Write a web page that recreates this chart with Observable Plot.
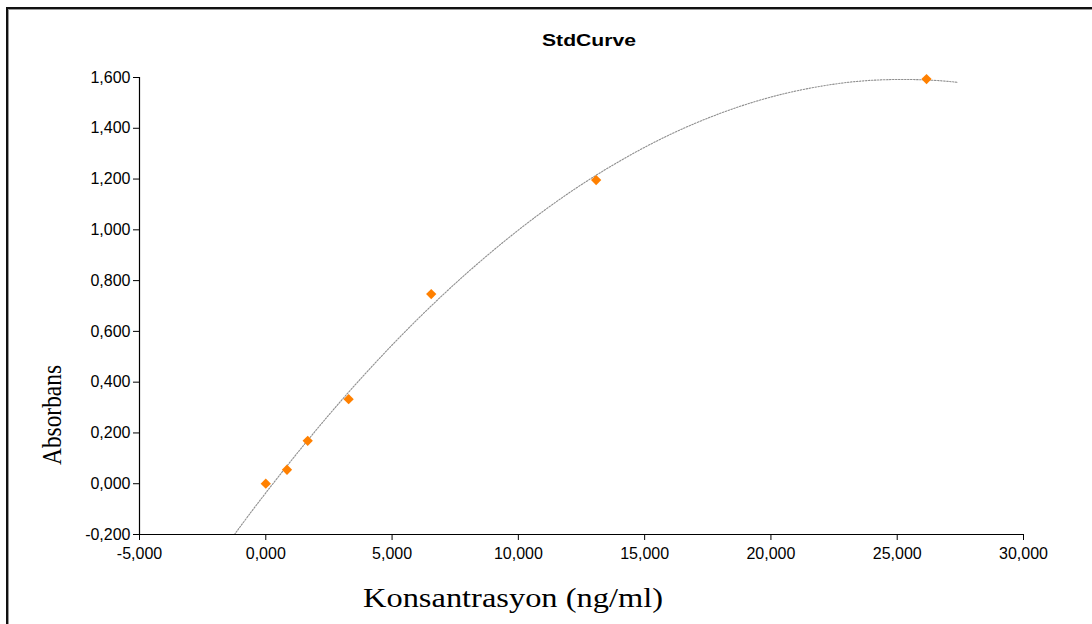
<!DOCTYPE html>
<html>
<head>
<meta charset="utf-8">
<script src="https://cdn.jsdelivr.net/npm/d3@7"></script>
<script src="https://cdn.jsdelivr.net/npm/@observablehq/plot@0.6"></script>
<style>
  html, body { margin: 0; padding: 0; background: #fff; overflow: hidden; }
  #wrap { position: relative; width: 1092px; height: 624px; overflow: hidden; }
  #border { position: absolute; left: 6px; top: 7px; width: 1200px; height: 700px;
            border-left: 2px solid #111; border-top: 2px solid #111; box-shadow: 1px 1px 0 #999 inset; }
</style>
</head>
<body>
<div id="wrap"><div id="border"></div></div>
<script>
// Measured standards (concentration in ng/ml, absorbance)
const concentrations = [0, 0.84, 1.66, 3.28, 6.55, 13.08, 26.16];
const absorbances    = [0.000, 0.055, 0.169, 0.333, 0.747, 1.196, 1.594];

// Polynomial trend line
const trendX = [-1.24, 0, 2, 4, 6, 8, 10, 12, 14, 16, 18, 20, 22, 24, 26, 27.4];
const trendY = [-0.200, -0.036, 0.212, 0.440, 0.647, 0.833, 0.999, 1.145, 1.270, 1.375, 1.459, 1.523, 1.566, 1.589, 1.591, 1.581];

const xTicks = [-5, 0, 5, 10, 15, 20, 25, 30];
const yTicks = [-0.2, 0, 0.2, 0.4, 0.6, 0.8, 1.0, 1.2, 1.4, 1.6];

const titleText = "StdCurve";
const xLabel = "Konsantrasyon (ng/ml)";
const yLabel = "Absorbans";

const points = concentrations.map((c, i) => ({x: c, y: absorbances[i]}));
const trend = trendX.map((x, i) => ({x, y: trendY[i]}));
const fmt = d => (d < 0 ? "-" : "") + Math.abs(d).toFixed(3).replace(".", ",");

const svg = Plot.plot({
  width: 1092,
  height: 624,
  marginLeft: 139,
  marginRight: 69,
  marginTop: 77,
  marginBottom: 90,
  style: {fontFamily: "'Liberation Sans', Arial, sans-serif", color: "#000", background: "transparent", overflow: "visible"},
  x: {domain: [-5, 30], ticks: xTicks, tickFormat: fmt, label: null},
  y: {domain: [-0.2, 1.6], ticks: yTicks, tickFormat: fmt, label: null},
  marks: [
    Plot.line(trend, {x: "x", y: "y", curve: "natural", stroke: "#8f8f8f", strokeWidth: 1.1, strokeDasharray: "1.5,1.5"}),
    Plot.dot(points, {x: "x", y: "y", symbol: "square", rotate: 45, r: 4.1, fill: "#ff8000", stroke: "none"}),
    Plot.ruleX([-5], {stroke: "#000", strokeWidth: 1.2}),
    Plot.ruleY([-0.2], {stroke: "#000", strokeWidth: 1.2}),
    Plot.axisX({ticks: xTicks, tickFormat: fmt, tickSize: 6, tickPadding: 7, stroke: "#000", fill: "#000", fontSize: 16, label: null}),
    Plot.axisY({ticks: yTicks, tickFormat: fmt, tickSize: 6, tickPadding: 3, stroke: "#000", fill: "#000", fontSize: 16, label: null})
  ]
});
svg.style.position = "absolute";
svg.style.left = "0px";
svg.style.top = "0px";

const s = d3.select(svg);
s.append("text").attr("x", 589).attr("y", 46).attr("text-anchor", "middle")
  .attr("font-family", "'Liberation Sans', Arial, sans-serif").attr("font-weight", "bold").attr("font-size", 16)
  .attr("textLength", 94).attr("lengthAdjust", "spacingAndGlyphs")
  .attr("fill", "#000").text(titleText);
s.append("text").attr("x", 513).attr("y", 607).attr("text-anchor", "middle")
  .attr("font-family", "'Liberation Serif', 'Times New Roman', serif").attr("font-size", 27)
  .attr("textLength", 300).attr("lengthAdjust", "spacingAndGlyphs")
  .attr("fill", "#000").text(xLabel);
s.append("text").attr("transform", "translate(61,415) rotate(-90)").attr("text-anchor", "middle")
  .attr("font-family", "'Liberation Serif', 'Times New Roman', serif").attr("font-size", 28)
  .attr("textLength", 100).attr("lengthAdjust", "spacingAndGlyphs")
  .attr("fill", "#000").text(yLabel);

document.getElementById("wrap").appendChild(svg);
</script>
</body>
</html>
